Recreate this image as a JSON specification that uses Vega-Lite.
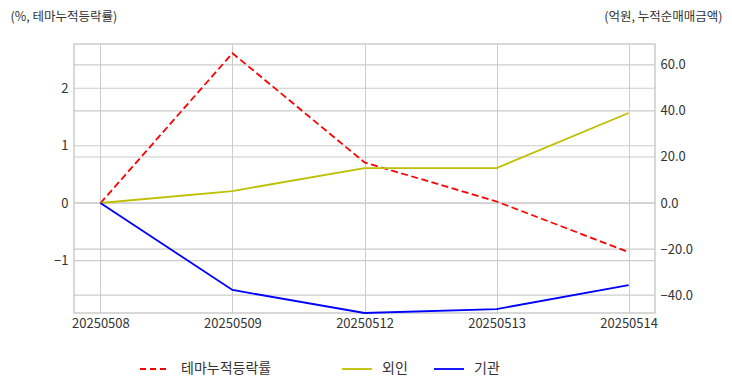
{
  "$schema": "https://vega.github.io/schema/vega-lite/v6.json",
  "width": 581,
  "height": 269,
  "autosize": "none",
  "padding": {"left": 74, "top": 44, "right": 77, "bottom": 79},
  "background": "white",
  "config": {
    "font": "Noto Sans CJK KR",
    "view": {"stroke": "#cccccc", "strokeWidth": 1.5},
    "axis": {"gridColor": "#cccccc", "gridWidth": 1, "domain": false, "ticks": false, "labelColor": "#333333", "labelFontSize": 13, "labelFont": "Noto Sans CJK KR", "titleFont": "Noto Sans CJK KR", "titleFontWeight": "normal", "titleColor": "#333333", "titleFontSize": 12.5},
    "legend": {"labelFont": "Noto Sans CJK KR", "labelFontSize": 14, "labelColor": "#333333"}
  },
  "datasets": {
    "lines": [
      {"date": "20250508", "series": "테마누적등락률", "value": 0},
      {"date": "20250509", "series": "테마누적등락률", "value": 2.61},
      {"date": "20250512", "series": "테마누적등락률", "value": 0.71},
      {"date": "20250513", "series": "테마누적등락률", "value": 0.03},
      {"date": "20250514", "series": "테마누적등락률", "value": -0.85},
      {"date": "20250508", "series": "외인", "value": 0},
      {"date": "20250509", "series": "외인", "value": 5.2},
      {"date": "20250512", "series": "외인", "value": 15.2},
      {"date": "20250513", "series": "외인", "value": 15.2},
      {"date": "20250514", "series": "외인", "value": 39.1},
      {"date": "20250508", "series": "기관", "value": 0},
      {"date": "20250509", "series": "기관", "value": -37.8},
      {"date": "20250512", "series": "기관", "value": -47.8},
      {"date": "20250513", "series": "기관", "value": -46.1},
      {"date": "20250514", "series": "기관", "value": -35.7}
    ],
    "gridLeft": [{"tick": -1}, {"tick": 0}, {"tick": 1}, {"tick": 2}],
    "gridRight": [{"tick": -40}, {"tick": -20}, {"tick": 0}, {"tick": 20}, {"tick": 40}, {"tick": 60}]
  },
  "data": {"name": "lines"},
  "layer": [
    {
      "data": {"name": "gridLeft"},
      "mark": {"type": "rule", "stroke": "#cccccc", "strokeWidth": 1.2},
      "encoding": {
        "y": {"field": "tick", "type": "quantitative", "scale": {"domain": [-1.91, 2.77], "nice": false, "zero": false}, "axis": null}
      }
    },
    {
      "data": {"name": "gridRight"},
      "mark": {"type": "rule", "stroke": "#cccccc", "strokeWidth": 1.2},
      "encoding": {
        "y": {"field": "tick", "type": "quantitative", "scale": {"domain": [-47.8, 69.1], "nice": false, "zero": false}, "axis": null}
      }
    },
    {
      "transform": [{"filter": "datum.series === '테마누적등락률'"}],
      "mark": {"type": "line", "strokeWidth": 1.8, "strokeDash": [7, 3.5]},
      "encoding": {
        "x": {"field": "date", "type": "ordinal", "scale": {"type": "point", "padding": 0.2},
          "axis": {"title": null, "labelAngle": 0, "labelPadding": 4, "grid": true}},
        "y": {"field": "value", "type": "quantitative",
          "scale": {"domain": [-1.91, 2.77], "nice": false, "zero": false},
          "axis": {"orient": "left", "grid": false, "values": [-1, 0, 1, 2], "format": "d", "labelPadding": 6,
            "title": "(%, 테마누적등락률)", "titleAngle": 0, "titleAlign": "left", "titleBaseline": "middle",
            "titleX": -64, "titleY": -28}},
        "color": {"field": "series", "type": "nominal",
          "scale": {"domain": ["테마누적등락률"], "range": ["#ff0000"]},
          "legend": {"title": null, "orient": "none", "legendX": 65, "legendY": 309, "symbolType": "stroke", "symbolSize": 900, "symbolStrokeWidth": 1.8, "symbolDash": [6, 4], "labelOffset": 10}}
      }
    },
    {
      "transform": [{"filter": "datum.series !== '테마누적등락률'"}],
      "mark": {"type": "line", "strokeWidth": 1.8},
      "encoding": {
        "x": {"field": "date", "type": "ordinal", "scale": {"type": "point", "padding": 0.2}},
        "y": {"field": "value", "type": "quantitative",
          "scale": {"domain": [-47.8, 69.1], "nice": false, "zero": false},
          "axis": {"orient": "right", "grid": false, "values": [-40, -20, 0, 20, 40, 60], "format": ".1f", "labelPadding": 5,
            "title": "(억원, 누적순매매금액)", "titleAngle": 0, "titleAlign": "right", "titleBaseline": "middle",
            "titleX": 67, "titleY": -28}},
        "color": {"field": "series", "type": "nominal",
          "scale": {"domain": ["외인", "기관"], "range": ["#bfbf00", "#0000ff"]},
          "legend": {"title": null, "orient": "none", "direction": "horizontal", "legendX": 267, "legendY": 309, "symbolType": "stroke", "symbolSize": 900, "symbolStrokeWidth": 1.8, "labelOffset": 9, "columnPadding": 22}}
      }
    }
  ],
  "resolve": {"scale": {"y": "independent", "color": "independent"}}
}
